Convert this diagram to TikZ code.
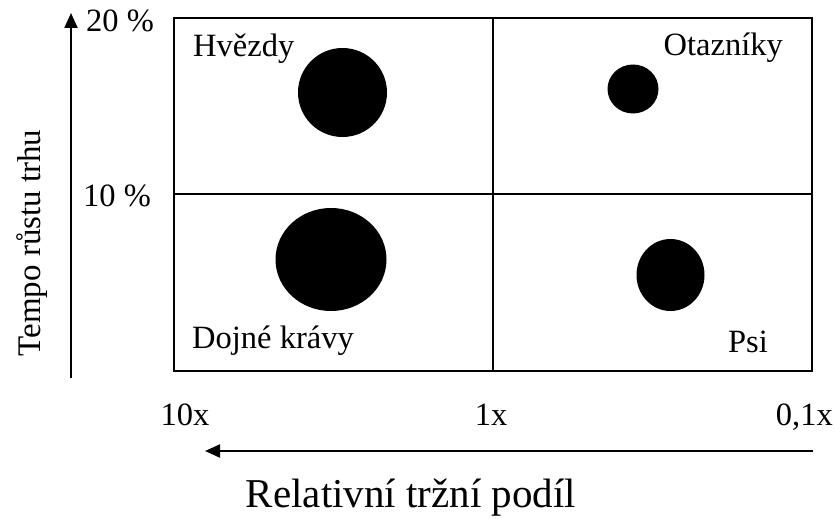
\documentclass[tikz,border=0pt]{standalone}
\usepackage{fontspec}
\setmainfont{Liberation Serif}
\usetikzlibrary{arrows.meta}
\begin{document}
\begin{tikzpicture}[x=1pt,y=-1pt,
  lbl/.style={inner sep=0pt,font=\fontsize{32.5}{38}\selectfont},
  tick/.style={inner sep=0pt,font=\fontsize{32.5}{38}\selectfont},
  ytitle/.style={inner sep=0pt,font=\fontsize{33}{39}\selectfont},
  xtitle/.style={inner sep=0pt,font=\fontsize{41}{48}\selectfont},
  frame/.style={line width=1.6pt},
  axis/.style={line width=2pt,-{Triangle[length=15pt,width=13pt]}},
  blob/.style={fill=black,draw=none}]
\useasboundingbox (0,0) rectangle (835,519);
% matrix
\coordinate (tl) at (174,18);
\coordinate (br) at (812,371);
\draw[frame] (tl) rectangle (br);
\coordinate (vt) at (493,18);
\coordinate (vb) at (493,371);
\coordinate (hl) at (174,194);
\coordinate (hr) at (812,194);
\draw[frame] (vt) -- (vb);
\draw[frame] (hl) -- (hr);
% bubbles
\fill[blob] (342.5,92.5) circle (44.5);
\fill[blob] (331,259.5) ellipse (55.5 and 51.5);
\fill[blob] (633,89) ellipse (25.5 and 24.5);
\fill[blob] (670.5,275) ellipse (34 and 36);
% quadrant labels
\node[lbl,anchor=base west] (hv) at (193,57) {Hvězdy};
\node[lbl,anchor=base east] (ot) at (783,56) {Otazníky};
\node[lbl,anchor=base west] (dk) at (192,348) {Dojné krávy};
\node[lbl,anchor=base east] (ps) at (768,352) {Psi};
% axes
\coordinate (ya) at (71,378);
\coordinate (yb) at (71,13);
\draw[axis] (ya) -- (yb);
\coordinate (xa) at (813,451);
\coordinate (xb) at (205,451);
\draw[axis] (xa) -- (xb);
% tick labels
\node[tick,anchor=base west] (p20) at (86,32) {20 \%};
\node[tick,anchor=base west] (p10) at (83,206) {10 \%};
\node[tick,anchor=base] (t10) at (185,425) {10x};
\node[tick,anchor=base] (t1) at (491,425) {1x};
\node[tick,anchor=base east] (t01) at (833,425) {0,1x};
% axis titles
\node[ytitle,anchor=base,rotate=90] (yt) at (40,243) {Tempo růstu trhu};
\node[xtitle,anchor=base] (xt) at (411,507) {Relativní tržní podíl};
\end{tikzpicture}
\end{document}
